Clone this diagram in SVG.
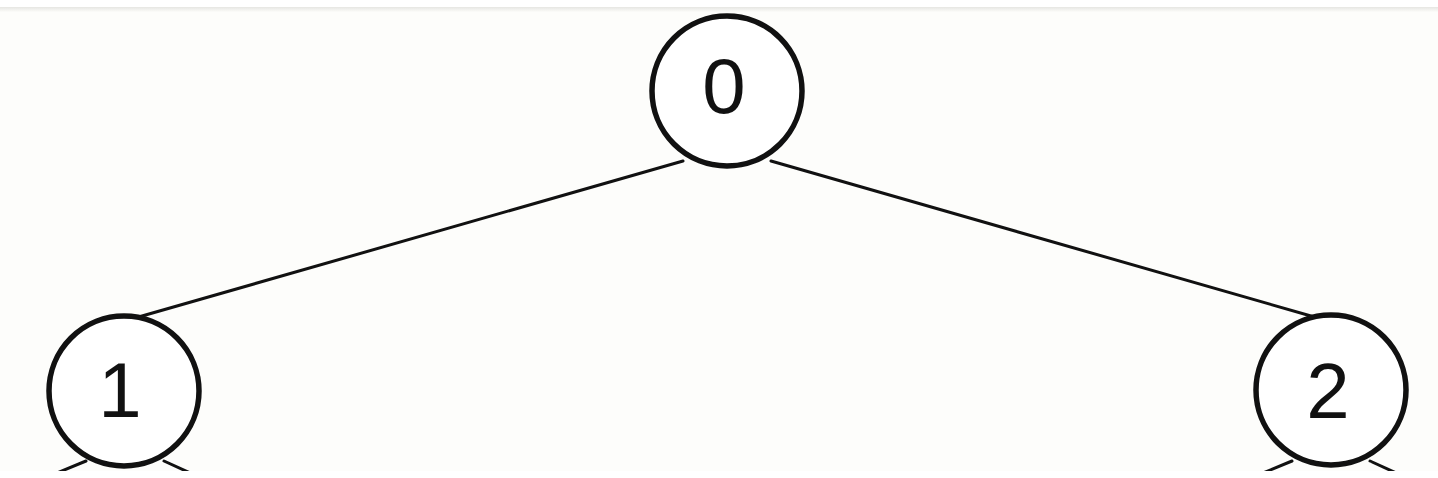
<svg xmlns="http://www.w3.org/2000/svg" width="1438" height="478" viewBox="0 0 1438 478">
  <defs>
    <clipPath id="crop"><rect x="0" y="9" width="1438" height="462"/></clipPath>
    <linearGradient id="shade" x1="0" y1="0" x2="0" y2="1">
      <stop offset="0" stop-color="#e6e6e2"/>
      <stop offset="1" stop-color="#fcfcfa"/>
    </linearGradient>
    <style>
      .node circle { fill: #ffffff; stroke: #111111; stroke-width: 5.5; }
      .node text { font-family: "Liberation Sans", Arial, sans-serif; font-size: 78px; fill: #111111; text-anchor: middle; }
      .edge { stroke: #111111; stroke-width: 3; fill: none; stroke-linecap: round; }
    </style>
  </defs>
  <rect x="0" y="0" width="1438" height="478" fill="#ffffff"/>
  <rect x="0" y="9" width="1438" height="462" fill="#fdfdfb"/>
  <rect x="0" y="7" width="1438" height="5" fill="url(#shade)"/>
  <g clip-path="url(#crop)">
    <g id="connectors">
      <line class="edge" x1="683" y1="161" x2="135" y2="318"/>
      <line class="edge" x1="771" y1="161" x2="1318" y2="318"/>
      <line class="edge" x1="86" y1="461" x2="40" y2="480"/>
      <line class="edge" x1="164" y1="461" x2="210" y2="482"/>
      <line class="edge" x1="1292" y1="461" x2="1246" y2="480"/>
      <line class="edge" x1="1370" y1="461" x2="1416" y2="482"/>
    </g>
    <g id="node0" class="node">
      <circle cx="727" cy="91" r="75"/>
      <text x="724" y="113">0</text>
    </g>
    <g id="node1" class="node">
      <circle cx="124" cy="391" r="75"/>
      <text x="120" y="417">1</text>
    </g>
    <g id="node2" class="node">
      <circle cx="1331" cy="390" r="75"/>
      <text x="1328" y="418">2</text>
    </g>
  </g>
</svg>
